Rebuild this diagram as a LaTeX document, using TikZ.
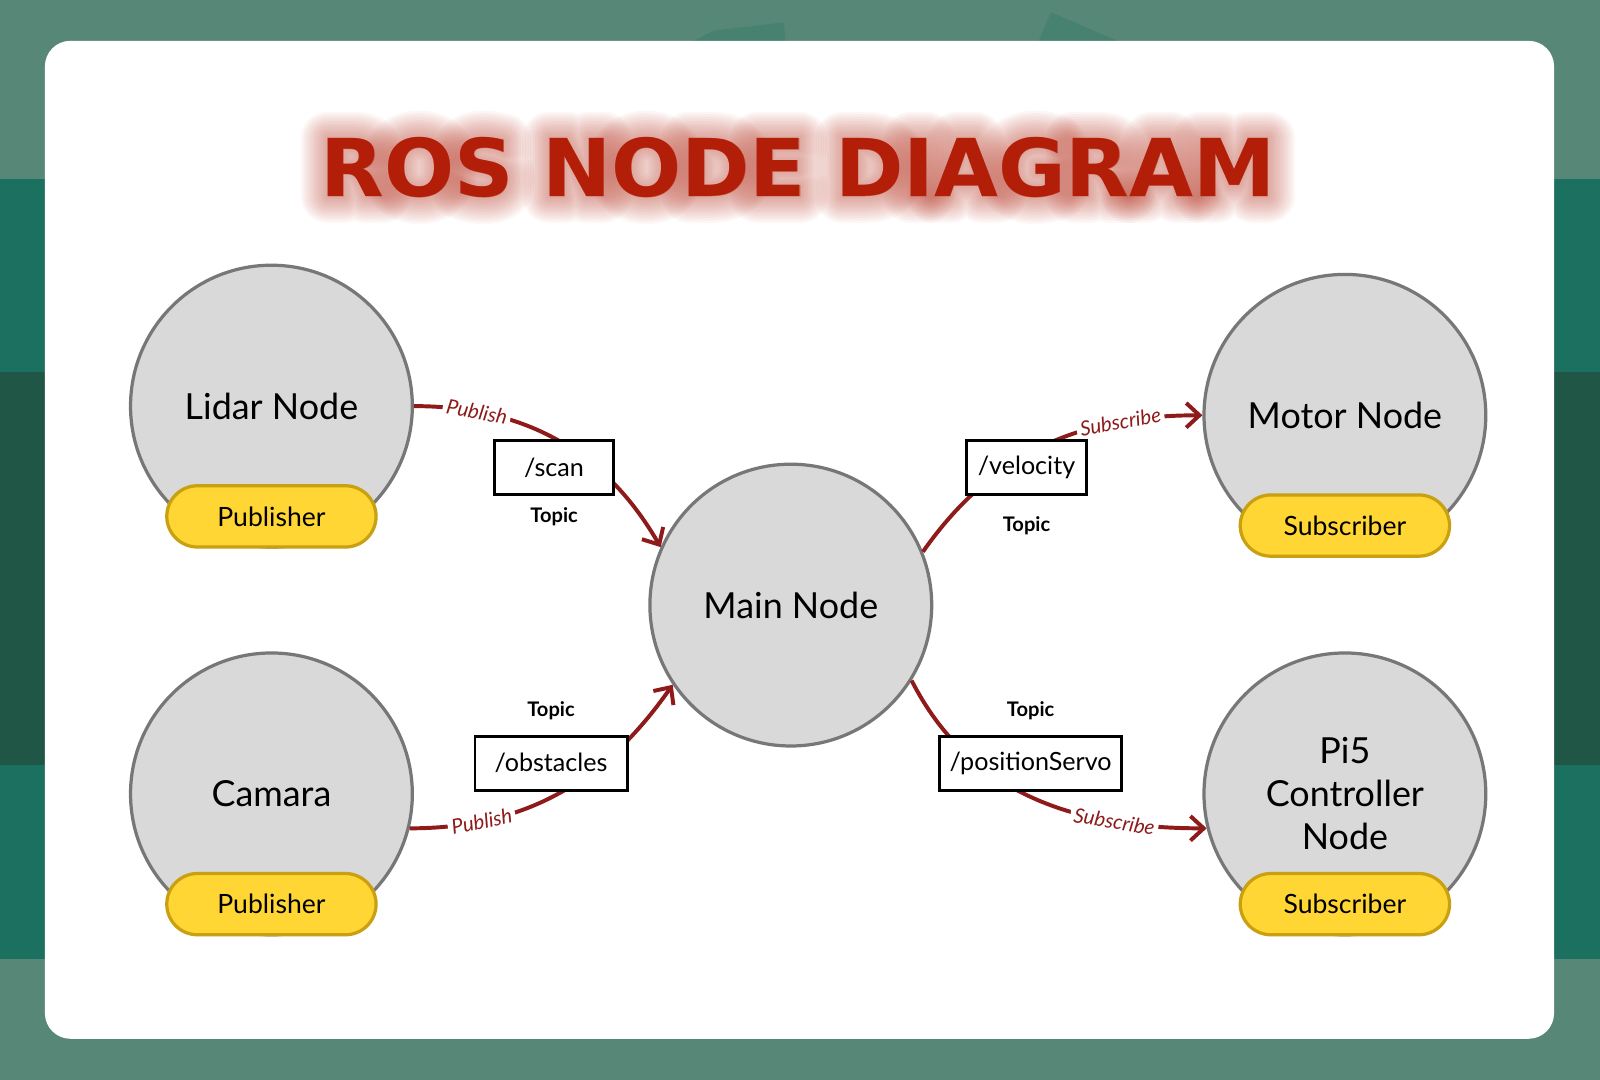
\documentclass[tikz,border=0pt]{standalone}
\usepackage{fontspec}
\setmainfont{Lato}
\newfontfamily\titlefont{DejaVu Sans}
\usetikzlibrary{positioning,arrows.meta,calc}

\definecolor{bgteal}{HTML}{578776}
\definecolor{bandteal}{HTML}{1B7060}
\definecolor{banddark}{HTML}{1F5646}
\definecolor{titlered}{HTML}{B31E08}
\definecolor{linkred}{HTML}{8E1A1A}
\definecolor{nodegray}{HTML}{D9D9D9}
\definecolor{rimgray}{HTML}{777777}
\definecolor{pillyellow}{HTML}{FFD633}
\definecolor{pillrim}{HTML}{C9A010}

\newcommand{\titletext}{\resizebox{9.35cm}{0.58cm}{\titlefont\bfseries ROS NODE DIAGRAM}}
% stroked copy of the title, used for the glow
\newcommand{\glowtext}[1]{\special{pdf:literal direct 2 Tr 1 j #1 w}\titletext\special{pdf:literal direct 0 Tr}}

\tikzset{
  rosnode/.style={circle, draw=rimgray, line width=0.9pt, fill=nodegray, minimum size=2.76cm, align=center, font=\fontsize{10}{12}\selectfont},
  pill/.style={rectangle, rounded corners=3mm, draw=pillrim, line width=0.9pt, fill=pillyellow, minimum width=2.05cm, minimum height=0.6cm, anchor=south, font=\fontsize{7.4}{9}\selectfont},
  topicbox/.style={rectangle, draw=black, line width=0.8pt, fill=white, minimum height=0.53cm, inner xsep=1mm, font=\fontsize{7}{8}\selectfont},
  topiclbl/.style={inner sep=0pt, font=\bfseries\fontsize{5.6}{7}\selectfont},
  link/.style={draw=linkred, line width=1.1pt, -{Straight Barb[length=1.3mm,width=2.4mm]}},
  linklbl/.style={text=linkred, fill=white, inner sep=1pt, sloped, font=\itshape\fontsize{5.7}{7}\selectfont},
  glow/.style={text=titlered, inner sep=0pt, opacity=0.04}
}

\begin{document}
\begin{tikzpicture}[x=0.01cm, y=-0.01cm]
\useasboundingbox (0,0) rectangle (1568,1058);

% background and card
\fill[bgteal] (0,0) rectangle (1568,1058);
\fill[bandteal] (0,175) rectangle (44,940);
\fill[banddark] (0,365) rectangle (44,750);
\fill[bandteal] (1523,175) rectangle (1568,940);
\fill[banddark] (1523,365) rectangle (1568,750);
\fill[bandteal, opacity=0.25] (680,40) -- (700,30) -- (768,22) -- (770,40) -- cycle;
\fill[bandteal, opacity=0.25] (1018,40) -- (1030,12) -- (1095,40) -- cycle;
\fill[white, rounded corners=0.25cm] (44,40) rectangle (1523,1018);

% title with glow
\foreach \w in {0.6,1.2,...,6.6}{
  \node[glow] (glow\w) at (782,164) {\glowtext{\w}};
}
\node[text=titlered, inner sep=0pt] (title) at (782,164) {\titletext};

% nodes
\node[rosnode] (lidar) at (266,398) {Lidar Node};
\node[pill] (lidarpub) at (lidar.south) {Publisher};
\node[rosnode] (camara) at (266,778) {Camara};
\node[pill] (camarapub) at (camara.south) {Publisher};
\node[rosnode] (main) at (775,593) {Main Node};
\node[rosnode] (motor) at (1318,407) {Motor Node};
\node[pill] (motorsub) at (motor.south) {Subscriber};
\node[rosnode] (pi) at (1318,778) {Pi5\\Controller\\Node};
\node[pill] (pisub) at (pi.south) {Subscriber};

% connectors
\draw[link] (lidar.east) to[out=0, in=120] node[linklbl, pos=0.2] {Publish} (main.156);
\draw[link] (camara.-14) to[out=0, in=235] node[linklbl, pos=0.22] {Publish} (main.214);
\draw[link] (main.22) to[out=55, in=180] node[linklbl, pos=0.76] {Subscribe} (motor.west);
\draw[link] (main.-32) to[out=-63, in=180] node[linklbl, pos=0.75] {Subscribe} (pi.194);

% topics
\node[topicbox, minimum width=1.17cm] (scan) at (543,458) {/scan};
\node[topiclbl, below=1.1mm of scan] (scantopic) {Topic};
\node[topicbox, minimum width=1.17cm] (velocity) at (1006,458) {/velocity};
\node[topiclbl, below=2mm of velocity] (velocitytopic) {Topic};
\node[topicbox, minimum width=1.49cm] (obstacles) at (540,748) {/obstacles};
\node[topiclbl, above=1.4mm of obstacles] (obstaclestopic) {Topic};
\node[topicbox, minimum width=1.77cm] (servo) at (1010,748) {/positionServo};
\node[topiclbl, above=1.4mm of servo] (servotopic) {Topic};
\end{tikzpicture}
\end{document}
